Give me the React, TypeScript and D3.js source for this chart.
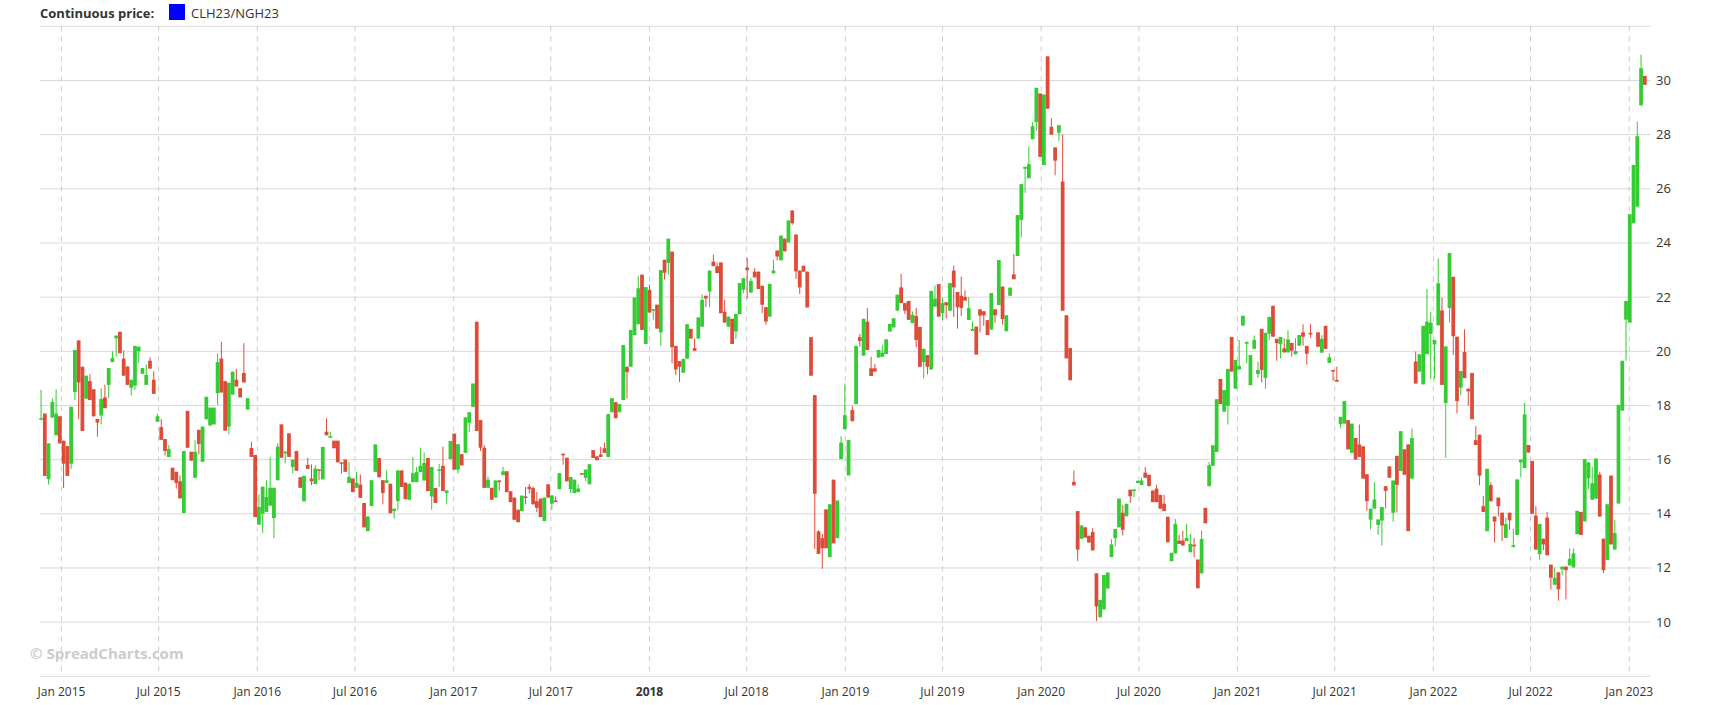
import React from "react";
import * as d3 from "d3";

// weekly candles of the CLH23/NGH23 continuous price, first week starting 24 Nov 2014
const firstWeek = new Date(2014, 10, 24);

const opens: (number | null)[] = [
  17.48, 17.7, 15.28, 17.55, 16.9, 17.6, 16.7, 16.5, 15.85, 18.5,
  20.4, 19.43, 18.25, 18.9, 18.6, 17.5, 17.63, 18.3, 18.76, 19.6,
  20.48, 20.72, 19.73, 19.44, 18.65, 18.73, 20.0, 19.17, 18.76, 19.65,
  18.95, 17.4, 17.2, 16.76, 16.1, 15.7, 15.55, 15.2, 14.03, 17.8,
  16.29, 15.33, 17.1, 15.92, 17.49, 17.26, 17.3, 18.45, 19.73, 18.9,
  17.22, 18.4, 18.95, 18.64, 19.2, 17.85, 16.43, 16.17, 13.6, 14.0,
  14.07, 14.3, 13.84, 15.24, 17.3, 16.23, 16.97, 15.73, 16.32, 15.35,
  14.46, 15.8, 15.3, 15.1, 15.64, 15.27, 17.03, 16.81, 16.7, 16.7,
  15.9, 16.0, 15.14, 15.3, 14.96, 15.08, 14.4, 13.36, 14.29, 15.55,
  16.06, 15.24, 15.14, 15.11, 14.1, 14.47, 15.6, 15.15, 14.52, 15.17,
  15.17, 15.54, 15.23, 16.06, 14.64, 14.95, 15.62, 15.77, 14.77, 16.02,
  16.96, 15.63, 16.2, 16.25, 17.36, 17.95, 21.09, 17.46, 16.44, 14.96,
  14.96, 14.6, 15.23, 15.43, 15.57, 14.83, 14.6, 14.15, 14.1, 14.64,
  15.0, 14.95, 14.47, 14.56, 13.73, 15.09, 14.37, 14.49, 14.91, 16.22,
  16.07, 14.91, 14.77, 14.8, 15.5, 15.33, 15.09, 16.35, 16.12, 16.19,
  16.42, 16.1, 17.75, 18.12, 17.75, 18.2, 19.43, 19.43, 20.6, 21.0,
  22.83, 20.27, 22.27, 21.52, 21.72, 20.7, 23.38, 23.26, 23.68, 20.2,
  19.64, 19.21, 19.73, 20.83, 20.12, 20.47, 20.91, 22.05, 22.21, 23.31,
  23.14, 23.28, 21.46, 20.91, 21.2, 20.73, 21.37, 22.27, 23.09, 22.17,
  22.94, 22.94, 22.42, 21.63, 21.28, 22.88, 23.72, 23.36, 24.16, 24.02,
  25.2, 24.31, 22.98, 23.16, 22.94, 20.52, 18.38, 13.35, 13.1, 14.16,
  12.4, 15.26, 13.1, 16.02, 17.12, 15.42, 17.83, 18.05, 20.52, 19.84,
  21.09, 19.37, 19.37, 19.77, 19.8, 19.9, 20.73, 20.88, 21.5, 22.36,
  21.78, 21.86, 21.04, 21.3, 20.9, 19.6, 19.86, 19.33, 21.65, 22.48,
  21.41, 21.81, 21.5, 22.98, 22.19, 22.05, 22.0, 21.16, 20.75, 20.91,
  21.55, 21.48, 21.15, 20.8, 21.55, 21.71, 22.39, 20.74, 22.05, 22.84,
  23.52, 24.85, 26.74, 26.39, 27.83, 28.46, 29.52, 26.88, 30.89, 28.29,
  27.53, 28.07, 26.27, 21.33, 20.12, 15.18, 14.1, 13.08, 13.5, 13.19,
  13.33, 11.8, 10.18, 10.47, 11.24, 12.4, 13.1, 13.5, 14.04, 13.91,
  14.89, 14.84, 15.14, 15.07, 15.52, 15.44, 14.86, 14.93, 14.7, 14.37,
  13.89, 12.25, 12.54, 13.01, 13.01, 12.99, 12.58, 12.86, 12.31, 11.8,
  14.22, 15.02, 15.77, 16.28, 18.98, 17.77, 17.99, 20.53, 18.62, 19.33,
  20.95, 20.28, 18.75, 20.09, 19.16, 20.83, 19.02, 20.65, 21.68, 20.46,
  20.26, 20.11, 19.96, 20.31, 19.89, 20.21, 20.7, 20.2, 20.68, null,
  20.7, 19.95, 20.94, 19.57, 19.31, 18.94, 17.31, 17.33, 17.46, 16.25,
  16.8, 16.56, 16.49, 15.46, 13.78, 14.19, 13.59, 13.75, 15.02, 15.75,
  14.04, 16.14, 15.58, 16.38, 16.56, 15.3, 19.62, 19.25, 18.78, 19.89,
  20.64, 20.25, 20.96, 21.51, 18.09, 21.6, 22.75, 20.54, 18.66, 19.97,
  18.62, 19.2, 16.72, 16.92, 14.28, 13.36, 15.06, 13.9, 14.6, 14.04,
  13.11, 14.04, 12.77, 13.22, 15.9, 15.69, 16.54, 15.95, 13.93, 12.51,
  13.08, 13.86, 12.12, 11.38, 11.84, 11.95, 12.05, 12.09, 12.02, 13.25,
  14.07, 13.72, 15.31, 14.52, 14.56, 15.45, 13.08, 12.3, 15.41, 12.68,
  14.38, 17.81, 21.17, 21.06, 24.73, 25.34, 29.08, 30.17,
];

const closes: (number | null)[] = [
  17.53, 15.4, 16.6, 18.13, 17.7, 16.6, 15.85, 15.4, 17.95, 20.05,
  18.85, 17.06, 19.1, 18.2, 17.6, 17.37, 18.24, 17.9, 19.38, 19.75,
  20.58, 19.93, 19.1, 18.76, 18.95, 20.2, 20.17, 19.38, 19.13, 19.36,
  18.43, 17.6, 16.73, 16.32, 16.39, 15.24, 15.14, 14.57, 16.32, 16.44,
  15.96, 16.29, 16.58, 17.22, 18.32, 17.92, 17.92, 19.6, 18.48, 17.07,
  18.84, 19.25, 18.7, 18.3, 18.85, 18.27, 16.1, 13.88, 14.25, 15.0,
  14.62, 14.96, 14.96, 16.48, 16.07, 16.3, 16.1, 16.0, 15.59, 14.96,
  15.4, 15.66, 15.2, 15.67, 15.6, 16.47, 16.9, 16.87, 16.42, 15.9,
  15.86, 15.55, 15.36, 14.8, 15.15, 14.59, 13.5, 13.9, 15.24, 16.56,
  15.35, 14.77, 15.24, 14.02, 14.19, 15.6, 14.99, 14.54, 15.11, 15.5,
  15.54, 15.77, 15.88, 14.84, 15.73, 14.4, 15.64, 14.84, 14.86, 16.69,
  15.63, 16.57, 15.79, 17.56, 17.75, 18.81, 17.06, 16.44, 14.96, 15.26,
  14.52, 15.23, 15.17, 15.57, 14.8, 14.43, 13.78, 13.69, 14.67, 14.59,
  14.91, 14.35, 14.22, 13.88, 14.6, 14.6, 14.68, 14.43, 15.5, 16.16,
  15.2, 15.36, 15.26, 14.93, 15.46, 15.63, 15.83, 16.06, 15.98, 16.1,
  16.25, 17.68, 18.27, 17.53, 18.05, 20.23, 19.23, 20.79, 21.99, 22.33,
  20.79, 22.37, 21.43, 21.56, 20.84, 23.0, 22.9, 24.16, 20.15, 19.33,
  19.43, 19.72, 21.0, 20.47, 20.02, 21.25, 21.9, 21.95, 22.98, 23.14,
  22.89, 21.41, 21.06, 21.28, 20.27, 21.38, 22.52, 22.7, 23.0, 22.6,
  22.73, 22.3, 21.72, 21.1, 22.49, 22.98, 23.5, 24.27, 23.69, 24.83,
  24.73, 22.95, 22.36, 22.94, 21.62, 19.1, 14.74, 12.52, 12.73, 12.73,
  14.35, 12.91, 14.49, 16.63, 17.64, 16.72, 17.42, 20.2, 20.38, 21.2,
  20.05, 19.09, 19.25, 20.05, 19.95, 20.44, 21.01, 21.22, 22.09, 21.78,
  21.5, 21.16, 21.35, 20.42, 19.43, 20.09, 19.43, 22.23, 21.94, 21.28,
  21.78, 21.7, 22.52, 22.36, 21.63, 21.6, 21.87, 21.59, 20.82, 19.88,
  21.32, 21.33, 20.6, 22.15, 21.33, 23.37, 21.19, 21.33, 22.35, 22.66,
  25.03, 26.17, 26.81, 26.91, 28.31, 29.73, 27.18, 29.48, 28.96, 28.0,
  27.04, 28.35, 21.5, 19.74, 18.93, 15.05, 12.68, 13.57, 13.12, 12.94,
  12.65, 10.58, 10.82, 11.74, 11.83, 12.87, 13.44, 14.56, 13.41, 14.37,
  14.65, 14.9, 15.22, 15.23, 15.33, 15.02, 14.43, 14.43, 14.19, 14.1,
  12.95, 12.56, 13.63, 12.89, 12.83, 13.11, 12.89, 12.8, 11.25, 13.07,
  13.65, 15.79, 16.53, 18.23, 18.05, 18.57, 19.35, 19.25, 19.68, 19.46,
  21.31, 20.35, 19.86, 20.42, 19.31, 19.31, 20.68, 21.27, 20.54, 20.3,
  20.53, 19.96, 20.44, 20.02, 20.01, 20.6, 20.54, 19.91, 20.63, null,
  20.17, 20.46, 20.09, 19.78, 19.28, 18.88, 17.58, 18.16, 16.38, 17.33,
  16.0, 16.1, 15.3, 14.47, 14.19, 14.53, 13.79, 14.25, 14.85, 15.33,
  15.23, 15.07, 17.05, 15.44, 13.36, 16.8, 18.81, 19.89, 20.94, 21.1,
  21.06, 20.42, 22.51, 18.76, 20.18, 23.63, 20.56, 18.16, 19.27, 19.01,
  18.52, 17.49, 16.54, 15.41, 14.07, 15.66, 14.46, 13.71, 14.28, 13.57,
  13.62, 13.76, 12.84, 15.27, 16.0, 17.67, 16.26, 14.0, 12.68, 13.62,
  12.87, 12.47, 11.64, 11.64, 11.21, 12.05, 11.92, 12.34, 12.54, 14.11,
  13.22, 16.02, 15.9, 15.13, 16.04, 13.9, 11.92, 14.35, 12.87, 13.29,
  18.02, 19.65, 21.86, 25.06, 26.88, 27.94, 30.45, 29.84,
];

// null: no upper wick (high = top of body)
const highs: (number | null)[] = [
  18.58, null, null, 18.27, 18.6, null, null, null, null, null,
  null, null, null, 19.15, null, null, 18.63, 18.77, null, 20.0,
  null, null, 20.03, null, null, null, null, null, 19.52, 19.77,
  19.26, 17.7, 17.5, null, 16.54, null, null, 15.42, null, null,
  null, 16.72, null, null, null, null, null, 19.92, 20.35, null,
  null, null, 19.35, null, 20.3, null, 16.66, null, 14.72, null,
  15.24, 16.1, null, 16.6, null, null, null, null, null, null,
  null, 16.07, 15.82, 15.79, null, null, 17.52, 17.03, null, null,
  null, null, 15.92, null, 15.55, 15.45, null, null, null, null,
  null, null, 15.6, null, null, null, null, null, null, 16.1,
  15.73, 16.44, 16.26, null, null, null, 15.84, 16.48, null, null,
  null, null, null, null, null, null, null, null, 16.55, 15.38,
  null, null, null, 15.73, null, null, null, null, null, 14.99,
  15.1, 15.01, 14.8, null, null, null, null, 14.64, null, null,
  null, null, null, 15.09, null, null, null, null, null, 16.47,
  16.63, null, null, null, null, null, null, null, null, 22.79,
  null, null, 22.46, null, null, null, null, null, null, null,
  null, null, null, null, 20.47, null, 22.11, null, null, 23.57,
  23.28, null, 21.9, null, null, null, null, null, 23.45, 22.7,
  23.07, null, null, null, null, 23.38, null, null, null, null,
  null, null, null, null, null, null, null, 13.39, 13.26, null,
  null, null, null, 16.86, 18.81, null, 17.98, null, 20.64, null,
  21.6, 19.8, 19.53, null, 20.24, null, null, null, null, 22.86,
  null, null, 21.47, 21.6, null, null, null, null, 22.43, null,
  21.97, null, null, 23.17, null, 22.76, 22.25, 22.0, 21.1, null,
  null, null, null, null, null, null, null, null, null, 23.59,
  null, null, null, 27.57, 28.46, null, null, null, null, 28.6,
  null, null, 28.0, null, null, 15.6, null, null, null, null,
  13.47, null, null, null, null, 13.06, null, null, 14.32, null,
  null, null, null, 15.33, 15.73, null, null, 15.07, null, 14.7,
  null, null, 13.81, 13.22, 13.38, 13.63, 13.26, 13.1, null, 13.38,
  null, 15.91, null, null, null, null, null, null, null, 20.42,
  null, null, null, 20.58, 19.62, null, null, null, null, null,
  null, 20.48, 20.78, null, 20.48, null, 21.0, null, 21.0, null,
  null, 20.6, null, 19.93, null, 19.43, null, null, null, null,
  null, 17.3, null, null, null, 15.17, null, null, null, null,
  null, null, null, null, null, 17.15, 19.99, null, null, 22.3,
  21.46, null, 23.42, 21.98, null, null, null, null, null, 20.81,
  null, null, 17.24, null, 14.66, null, 15.16, null, null, null,
  13.86, null, 13.45, null, null, 18.1, null, null, 14.28, null,
  null, 14.07, null, 12.02, null, null, null, 12.72, 12.72, null,
  null, null, null, 15.74, null, 15.55, null, null, null, 13.78,
  null, null, null, null, null, 28.48, 30.95, null,
];

// null: no lower wick (low = bottom of body)
const lows: (number | null)[] = [
  17.45, null, 15.08, null, null, null, 14.95, null, 15.66, 18.2,
  17.5, null, null, null, null, 16.85, 17.3, null, 18.27, null,
  19.8, null, null, null, 18.37, 18.58, 19.57, null, null, null,
  null, null, null, 16.15, null, null, 14.93, null, null, null,
  null, null, 16.2, null, null, null, null, 18.02, null, null,
  16.93, null, null, null, null, null, null, null, null, 13.3,
  null, null, 13.1, null, null, 15.86, null, 15.49, null, null,
  null, null, 15.06, null, 15.24, null, null, null, null, null,
  15.49, null, null, null, null, null, null, null, null, null,
  null, 14.35, null, null, 13.82, 14.13, null, null, null, null,
  null, null, null, null, 14.15, null, 14.99, null, 14.35, null,
  null, 15.48, null, null, 17.02, null, null, 16.32, null, null,
  null, null, 14.85, null, null, null, null, null, null, 14.35,
  14.75, null, 14.06, null, null, null, 14.15, null, null, 15.81,
  null, 14.77, null, null, null, 15.2, null, null, null, null,
  null, null, null, null, null, null, 18.26, null, null, null,
  null, null, null, 21.15, null, 20.2, 22.65, 22.83, 19.56, 19.12,
  18.86, null, null, null, null, null, null, 21.63, 21.63, null,
  null, null, null, null, null, 20.45, null, 22.15, 21.94, null,
  null, null, 21.41, 20.98, null, null, 23.36, null, null, null,
  24.67, 22.67, 22.12, null, null, null, 12.7, null, 11.97, null,
  null, null, null, null, null, null, null, null, 20.17, null,
  null, null, null, null, null, null, null, null, null, null,
  21.38, null, null, 20.15, null, 19.0, 19.15, null, null, null,
  21.16, 21.21, null, 21.27, 20.84, 21.3, null, null, null, null,
  20.7, 20.94, null, null, 21.05, null, 20.98, null, null, null,
  null, 24.2, 25.85, null, null, 28.15, null, null, null, null,
  26.5, 27.76, null, null, null, null, 12.26, null, null, null,
  null, 10.04, null, null, null, null, 12.79, null, 13.2, null,
  14.4, 14.62, null, null, null, null, null, null, null, null,
  null, null, null, null, null, null, null, 12.39, null, null,
  null, null, null, null, null, null, 17.3, null, null, null,
  null, 19.56, null, null, 19.02, 18.85, 18.62, 20.42, null, 19.65,
  19.74, null, null, 19.8, null, null, 20.21, 19.51, 20.5, null,
  null, null, null, null, 18.91, null, 17.15, null, null, null,
  null, null, null, 14.12, 13.42, null, 13.22, 12.83, 14.19, null,
  13.7, 14.05, null, null, null, null, null, null, null, null,
  18.98, 18.98, null, null, 16.07, 21.06, 19.86, 17.7, 18.38, null,
  17.99, null, null, 15.05, null, null, null, 12.94, 13.9, 13.0,
  null, 13.4, null, null, 15.34, null, null, null, null, 12.3,
  12.66, null, 11.2, null, 10.79, 11.73, 10.84, null, null, null,
  null, null, 14.91, null, null, null, 11.81, null, null, null,
  null, null, 19.65, null, null, null, null, null,
];

const seriesName = "CLH23/NGH23";
const legendTitle = "Continuous price:";
const watermark = "\u00a9 SpreadCharts.com";

const width = 1733;
const height = 705;
const plot = { left: 40, right: 1650.7, top: 26.3, bottom: 676.3 };

const upColor = "#33cc33";
const downColor = "#dd4b39";
const font = "'Open Sans', 'Noto Sans', sans-serif";

type Candle = { date: Date; open: number; close: number; high: number; low: number };

const candles: Candle[] = opens
  .map((o, i) => {
    const c = closes[i];
    if (o == null || c == null) return null;
    return {
      date: d3.timeDay.offset(firstWeek, i * 7),
      open: o,
      close: c,
      high: highs[i] ?? Math.max(o, c),
      low: lows[i] ?? Math.min(o, c),
    };
  })
  .filter((d): d is Candle => d !== null);

export default function App() {
  const x = d3
    .scaleTime()
    .domain([new Date(2014, 10, 22), new Date(2023, 1, 10)])
    .range([plot.left, plot.right]);

  const y = d3.scaleLinear().domain([8, 32]).range([plot.bottom, plot.top]);

  const yTicks = y.ticks(12);
  const xTicks = d3.timeMonth.every(6)!.range(new Date(2015, 0, 1), new Date(2023, 1, 1));
  const fmt = d3.timeFormat("%b %Y");

  const bodyW = x(d3.timeDay.offset(firstWeek, 7)) - x(firstWeek);

  return (
    <>
      <style>{`body{margin:0;}`}</style>
      <svg width={width} height={height} style={{ display: "block", background: "#fff" }} fontFamily={font}>
        {/* legend */}
        <text x={40} y={17.5} fontSize={13} fontWeight="bold" fill="#333">
          {legendTitle}
        </text>
        <rect x={169} y={4} width={16} height={16} fill="#0000ff" />
        <text x={191} y={17.5} fontSize={13} fill="#333">
          {seriesName}
        </text>

        {/* horizontal grid + right labels */}
        <g>
          {yTicks.map((t) => (
            <g key={t}>
              <line x1={plot.left} x2={plot.right} y1={y(t)} y2={y(t)} stroke="#d9d9d9" strokeWidth={1} />
              {t > 8 && t < 32 && (
                <text x={1656} y={y(t) + 4.5} fontSize={13} fill="#333">
                  {t}
                </text>
              )}
            </g>
          ))}
        </g>

        {/* vertical dashed grid + bottom labels */}
        <g>
          {xTicks.map((t) => {
            const isYear2018 = t.getFullYear() === 2018 && t.getMonth() === 0;
            return (
              <g key={t.toISOString()}>
                <line
                  x1={x(t)}
                  x2={x(t)}
                  y1={plot.top}
                  y2={plot.bottom}
                  stroke="#cccccc"
                  strokeDasharray="5,5"
                />
                <text
                  x={x(t)}
                  y={696}
                  fontSize={12}
                  textAnchor="middle"
                  fill="#333"
                  fontWeight={isYear2018 ? "bold" : "normal"}
                >
                  {isYear2018 ? "2018" : fmt(t)}
                </text>
              </g>
            );
          })}
        </g>

        {/* watermark */}
        <text x={30} y={659} fontSize={15} fontWeight="bold" fill="#cccccc">
          {watermark}
        </text>

        {/* candles */}
        <g>
          {candles.map((d, i) => {
            const cx = x(d.date);
            const up = d.close >= d.open;
            const color = up ? upColor : downColor;
            const top = y(Math.max(d.open, d.close));
            const bottom = y(Math.min(d.open, d.close));
            const h = Math.max(bottom - top, 1.5);
            return (
              <g key={i}>
                <line x1={cx} x2={cx} y1={y(d.high)} y2={y(d.low)} stroke={color} strokeWidth={1} />
                <rect x={cx - bodyW / 2} y={top} width={bodyW} height={h} fill={color} />
              </g>
            );
          })}
        </g>
      </svg>
    </>
  );
}
